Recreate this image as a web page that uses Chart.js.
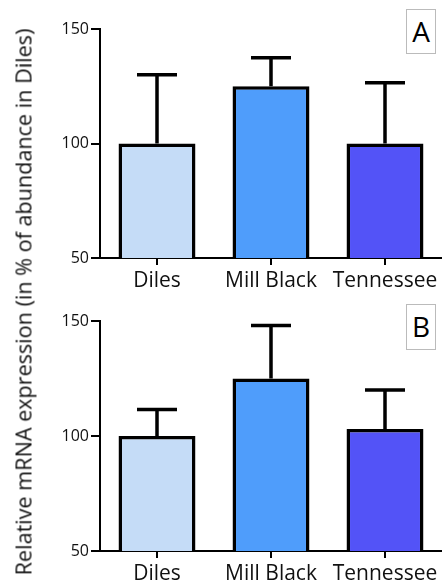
<!DOCTYPE html>
<html>
<head>
<meta charset="utf-8">
<script src="https://cdn.jsdelivr.net/npm/chart.js@4"></script>
<style>
  body { margin: 0; background: #fff; width: 442px; height: 585px; overflow: hidden; position: relative; font-family: "Open Sans", sans-serif; }
  .panel { position: absolute; left: 0; width: 442px; }
  #yTitle { position: absolute; left: 23px; top: 302px; transform: translate(-50%, -50%) rotate(-90deg); white-space: nowrap; font-size: 21.6px; color: #111; }
  .tag { position: absolute; left: 406px; width: 28px; border: 1px solid #bbb; font-size: 28px; line-height: 42px; text-align: center; color: #000; background: #fff; }
</style>
</head>
<body>
<div class="panel" style="top:0;height:292px"><canvas id="chartA"></canvas></div>
<div class="panel" style="top:292px;height:293px"><canvas id="chartB"></canvas></div>
<div id="yTitle">Relative mRNA expression (in % of abundance in Diles)</div>
<div class="tag" style="top:9px;height:43px">A</div>
<div class="tag" style="top:304px;height:44px">B</div>
<script>
const categories = ['Diles', 'Mill Black', 'Tennessee'];
const meansA = [100, 125, 100];
const errorsA = [30, 12.5, 26.5];
const meansB = [100, 125, 103];
const errorsB = [11.5, 23, 17];
const barColors = ['#c5dcf7', '#4f9dfb', '#5353f7'];

// draws the upper error bar above each bar
const errorBars = {
  id: 'errorBars',
  afterDatasetsDraw(chart, args, opts) {
    const ctx = chart.ctx;
    const yScale = chart.scales.y;
    const meta = chart.getDatasetMeta(0);
    const data = chart.data.datasets[0].data;
    ctx.save();
    ctx.strokeStyle = '#000';
    ctx.lineWidth = 3.5;
    meta.data.forEach((bar, i) => {
      const top = yScale.getPixelForValue(data[i] + opts.errors[i]);
      ctx.beginPath();
      ctx.moveTo(bar.x, bar.y);
      ctx.lineTo(bar.x, top);
      ctx.moveTo(bar.x - 20, top);
      ctx.lineTo(bar.x + 20, top);
      ctx.stroke();
    });
    ctx.restore();
  }
};

function makeChart(id, means, errors) {
  return new Chart(document.getElementById(id), {
    type: 'bar',
    data: {
      labels: categories,
      datasets: [{
        data: means,
        backgroundColor: barColors,
        borderColor: '#000',
        borderWidth: 3.5,
        barPercentage: 0.9,
        categoryPercentage: 0.75
      }]
    },
    options: {
      responsive: true,
      maintainAspectRatio: false,
      animation: false,
      layout: { padding: { top: 29, right: 0, left: 0, bottom: 0 } },
      plugins: {
        legend: { display: false },
        tooltip: { enabled: false },
        errorBars: { errors: errors }
      },
      scales: {
        x: {
          border: { color: '#000', width: 2 },
          grid: { offset: false, drawOnChartArea: false, color: '#000', lineWidth: 2, tickLength: 7 },
          ticks: { color: '#111', padding: 3, font: { family: 'Open Sans', size: 21 }, maxRotation: 0 },
          afterFit: (s) => { s.height = 34; }
        },
        y: {
          min: 50,
          max: 150,
          border: { color: '#000', width: 2 },
          grid: { drawOnChartArea: false, color: '#000', lineWidth: 2, tickLength: 9 },
          ticks: { stepSize: 50, color: '#111', padding: 2, font: { family: 'Open Sans', size: 16 } },
          afterFit: (s) => { s.width = 100; }
        }
      }
    },
    plugins: [errorBars]
  });
}

makeChart('chartA', meansA, errorsA);
makeChart('chartB', meansB, errorsB);
</script>
</body>
</html>
